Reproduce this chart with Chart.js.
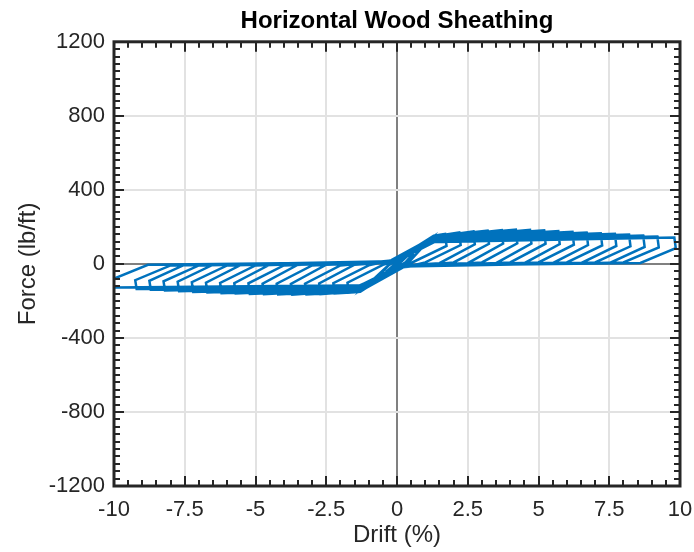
<!DOCTYPE html>
<html>
<head>
<meta charset="utf-8">
<script src="https://cdn.jsdelivr.net/npm/chart.js@4.4.1/dist/chart.umd.min.js"></script>
<style>
  html, body { margin: 0; padding: 0; background: #fff; }
  #plot { display: block; }
</style>
</head>
<body>
<canvas id="plot" width="694" height="552"></canvas>
<script>
// hysteresis record, one line per cycle (drift in %, force in lb/ft)
const drift = [
    0, 0.4, 0.1, -0.4, -0.1, 0.8, 0.3, -0.8, -0.3, 1.2, 0.4, -1.2, -0.2,
    1.3, 1.7, 1.75, 0.5, 0.1, -1.3, -1.7, -1.75, -0.5, -0.1,
    1.35, 2.2, 2.25, 1.0, 0.2, -1.35, -2.2, -2.25, -1.0, -0.2,
    1.3, 2.7, 2.75, 1.5, 0.1, -1.3, -2.7, -2.75, -1.5, -0.1,
    1.4, 3.2, 3.25, 2.0, 0.2, -1.4, -3.2, -3.25, -2.0, -0.2,
    1.3, 3.7, 3.75, 2.5, 0.1, -1.3, -3.7, -3.75, -2.5, -0.1,
    1.35, 4.2, 4.25, 3.0, 0.2, -1.35, -4.2, -4.25, -3.0, -0.2,
    1.3, 4.7, 4.75, 3.5, 0.1, -1.3, -4.7, -4.75, -3.5, -0.1,
    1.4, 5.2, 5.25, 4.0, 0.2, -1.4, -5.2, -5.25, -4.0, -0.2,
    1.3, 5.7, 5.75, 4.5, 0.1, -1.3, -5.7, -5.75, -4.5, -0.1,
    1.35, 6.2, 6.25, 5.0, 0.2, -1.35, -6.2, -6.25, -5.0, -0.2,
    1.3, 6.7, 6.75, 5.5, 0.1, -1.3, -6.7, -6.75, -5.5, -0.1,
    1.4, 7.2, 7.25, 6.0, 0.2, -1.4, -7.2, -7.25, -6.0, -0.2,
    1.3, 7.7, 7.75, 6.5, 0.1, -1.3, -7.7, -7.75, -6.5, -0.1,
    1.35, 8.2, 8.25, 7.0, 0.2, -1.35, -8.2, -8.25, -7.0, -0.2,
    1.3, 8.7, 8.75, 7.5, 0.1, -1.3, -8.7, -8.75, -7.5, -0.1,
    1.4, 9.2, 9.25, 8.0, 0.2, -1.4, -9.2, -9.25, -8.0, -0.2,
    1.3, 9.8, 9.85, 8.6, 0.1, -1.3, -10.0, -10.05, -8.8, -0.1
];
const force = [
    0, 48, 5, -45, -5, 95, 8, -92, -8, 140, 6, -136, 8,
    152, 162, 97, 5, -12, -150, -155, -101, -5, 12,
    150, 170, 102, 8, -20, -152, -160, -104, -8, 20,
    146, 176, 106, 4, -10, -146, -163, -106, -4, 10,
    150, 180, 108, 8, -18, -150, -165, -107, -8, 18,
    142, 183, 110, 4, -8, -140, -166, -108, -4, 8,
    145, 185, 111, 8, -16, -142, -165, -107, -8, 16,
    138, 184, 110, 4, -8, -136, -164, -107, -4, 8,
    140, 182, 109, 8, -15, -138, -162, -105, -8, 15,
    134, 178, 107, 4, -8, -132, -160, -104, -4, 8,
    134, 174, 104, 8, -14, -133, -158, -103, -8, 14,
    130, 170, 102, 4, -8, -128, -155, -101, -4, 8,
    132, 166, 100, 8, -14, -130, -152, -99, -8, 14,
    126, 162, 97, 4, -8, -124, -148, -96, -4, 8,
    126, 158, 95, 8, -14, -124, -144, -94, -8, 14,
    122, 153, 92, 4, -8, -120, -140, -91, -4, 8,
    124, 148, 89, 8, -14, -122, -135, -88, -8, 14,
    118, 142, 85, 5, -10, -116, -128, -83, -5, 10
];

const xTickLabels = ['-10', '-7.5', '-5', '-2.5', '0', '2.5', '5', '7.5', '10'];
const yTickLabels = ['-1200', '-800', '-400', '0', '400', '800', '1200'];

const FONT = "'Liberation Sans', Arial, Helvetica, sans-serif";
const INK = '#262626';

// inward tick marks on all four sides plus the box outline
const boxTicks = {
    id: 'boxTicks',
    afterDatasetsDraw(chart) {
        const { ctx, chartArea: a, scales: { x, y } } = chart;
        ctx.save();
        ctx.strokeStyle = INK;
        ctx.lineWidth = 2;
        ctx.beginPath();
        for (let i = 0; i <= 40; i++) {
            const v = -10 + i * 0.5;
            const px = Math.round(x.getPixelForValue(v));
            const len = i % 5 === 0 ? 10 : 6;
            ctx.moveTo(px, a.bottom); ctx.lineTo(px, a.bottom - len);
            ctx.moveTo(px, a.top); ctx.lineTo(px, a.top + len);
        }
        for (let i = 0; i <= 60; i++) {
            const v = -1200 + i * 40;
            const py = Math.round(y.getPixelForValue(v));
            const len = i % 10 === 0 ? 10 : 6;
            ctx.moveTo(a.left, py); ctx.lineTo(a.left + len, py);
            ctx.moveTo(a.right, py); ctx.lineTo(a.right - len, py);
        }
        ctx.stroke();
        ctx.lineWidth = 3;
        ctx.strokeRect(a.left, a.top, a.right - a.left, a.bottom - a.top);
        ctx.restore();
    }
};

const gridColor = c => c.tick && c.tick.value === 0 ? '#808080' : '#e2e2e2';

new Chart(document.getElementById('plot'), {
    type: 'scatter',
    data: {
        datasets: [{
            data: drift.map((d, i) => ({ x: d, y: force[i] })),
            showLine: true,
            borderColor: '#0072BD',
            borderWidth: 2.5,
            pointRadius: 0,
            tension: 0
        }]
    },
    options: {
        responsive: false,
        animation: false,
        layout: { padding: { left: 0, right: 14, top: 0, bottom: 0 } },
        plugins: {
            legend: { display: false },
            tooltip: { enabled: false },
            title: {
                display: true,
                text: 'Horizontal Wood Sheathing',
                color: '#000',
                fullSize: false,
                font: { family: FONT, size: 24, weight: 'bold' },
                padding: { top: 7, bottom: 6 }
            }
        },
        scales: {
            x: {
                type: 'linear',
                min: -10,
                max: 10,
                afterFit: s => { s.height = 66; s.paddingLeft = 0; s.paddingRight = 0; },
                ticks: {
                    stepSize: 2.5,
                    padding: 11,
                    color: INK,
                    font: { family: FONT, size: 22 },
                    callback: (v, i) => xTickLabels[i]
                },
                grid: { color: gridColor, lineWidth: 2, drawTicks: false },
                border: { display: false },
                title: {
                    display: true,
                    text: 'Drift (%)',
                    color: INK,
                    font: { family: FONT, size: 24 },
                    padding: { top: 0, bottom: 2 }
                }
            },
            y: {
                type: 'linear',
                min: -1200,
                max: 1200,
                afterFit: s => { s.width = 114; s.paddingTop = 0; s.paddingBottom = 0; },
                ticks: {
                    stepSize: 400,
                    padding: 9,
                    color: INK,
                    font: { family: FONT, size: 22 },
                    callback: (v, i) => yTickLabels[i]
                },
                grid: { color: gridColor, lineWidth: 2, drawTicks: false },
                border: { display: false },
                title: {
                    display: true,
                    text: 'Force (lb/ft)',
                    color: INK,
                    font: { family: FONT, size: 24 },
                    padding: { top: 14, bottom: 0 }
                }
            }
        }
    },
    plugins: [boxTicks]
});
</script>
</body>
</html>
